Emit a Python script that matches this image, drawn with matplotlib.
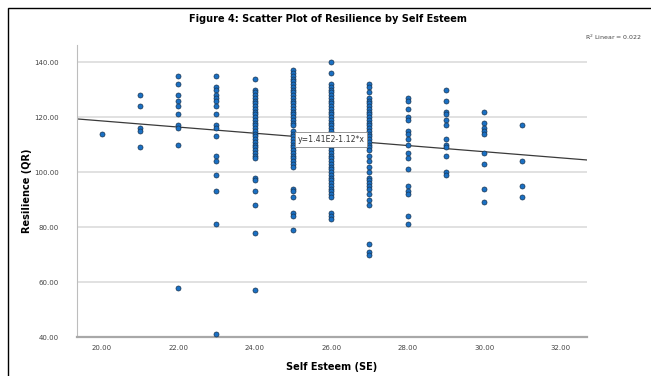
import matplotlib
matplotlib.use('Agg')
import matplotlib.pyplot as plt
import matplotlib.patches as mpatches
import numpy as np

# Resilience (QR) values per Self Esteem (SE) score
se_scores = [20, 21, 22, 23, 24, 25, 26, 27, 28, 29, 30, 31]
qr_by_se = {
    20: [114],
    21: [128, 124, 116, 115, 109],
    22: [135, 132, 128, 126, 124, 121, 117, 116, 110, 58],
    23: [135, 131, 130, 128, 127, 126, 124, 121, 117, 116, 113, 106, 104, 99, 93, 81, 41],
    24: [134, 130, 129, 128, 127, 126, 125, 124, 123, 122, 121, 120, 119, 118, 117,
         116, 115, 114, 113, 112, 111, 110, 109, 108, 107, 106, 105, 98, 97, 93, 88, 78, 57],
    25: [137, 136, 135, 134, 133, 132, 131, 130, 129, 128, 127, 126, 125, 124, 123,
         122, 121, 120, 119, 118, 117, 115, 114, 113, 112, 111, 110, 109, 108, 107,
         106, 105, 104, 103, 102, 94, 93, 91, 85, 84, 79],
    26: [140, 136, 132, 131, 130, 129, 128, 127, 126, 125, 124, 123, 122, 121, 120,
         119, 118, 117, 116, 115, 114, 113, 112, 111, 110, 109, 108, 107, 106, 105,
         104, 103, 102, 101, 100, 99, 98, 97, 96, 95, 94, 93, 92, 91, 85, 84, 83],
    27: [132, 131, 129, 127, 126, 125, 124, 123, 122, 121, 120, 119, 118, 117, 116,
         115, 114, 113, 112, 111, 110, 109, 108, 106, 104, 102, 100, 98, 97, 96, 95,
         94, 92, 90, 88, 74, 71, 70],
    28: [127, 126, 123, 120, 119, 115, 114, 112, 110, 107, 105, 101, 95, 93, 92, 84, 81],
    29: [130, 126, 122, 121, 119, 117, 112, 110, 109, 106, 100, 99],
    30: [122, 118, 116, 115, 114, 107, 103, 94, 89],
    31: [117, 104, 95, 91],
}

# fit line as printed on the chart: y = 1.41E2 - 1.12*x
intercept = 141.0
slope = -1.12
r2_text = 'R$^2$ Linear = 0.022'
fit_label = 'y=1.41E2-1.12*x'

yticks = [40, 60, 80, 100, 120, 140]
xticks = [20, 22, 24, 26, 28, 30, 32]

fig = plt.figure(figsize=(6.51, 3.76), dpi=100)
ax = fig.add_axes([0.1178, 0.1037, 0.7839, 0.7766])

xs = []
ys = []
for se in se_scores:
    for qr in qr_by_se[se]:
        xs.append(se)
        ys.append(qr)

ax.set_xlim(19.35, 32.69)
ax.set_ylim(40, 146.2)

for yt in yticks:
    ax.axhline(yt, color='#dcdcdc', lw=1.2, zorder=0)

xl = np.array(ax.get_xlim())
ax.plot(xl, intercept + slope * xl, color='#3a3a3a', lw=0.9, zorder=2)

ax.scatter(xs, ys, s=13, color='#1a70c4', edgecolors='#1b3550', linewidths=0.5, zorder=3)

ax.text(26.0, intercept + slope * 26.0, fit_label, fontsize=5.6, color='#333333',
        ha='center', va='center', zorder=4,
        bbox=dict(boxstyle='square,pad=0.35', fc='white', ec='#888888', lw=0.6))

ax.set_xticks(xticks)
ax.set_xticklabels([f'{v:.2f}' for v in xticks])
ax.set_yticks(yticks)
ax.set_yticklabels([f'{v:.2f}' for v in yticks])
ax.tick_params(length=0, labelsize=5, colors='#444444')
ax.tick_params(axis='x', pad=6)
ax.tick_params(axis='y', pad=13)

for side in ['top', 'right']:
    ax.spines[side].set_visible(False)
ax.spines['left'].set_color('#bdbdbd')
ax.spines['left'].set_linewidth(0.8)
ax.spines['bottom'].set_color('#a8a8a8')
ax.spines['bottom'].set_linewidth(1.6)

ax.set_xlabel('Self Esteem (SE)', fontsize=7, fontweight='bold', labelpad=8)
ax.set_ylabel('Resilience (QR)', fontsize=7, fontweight='bold')
ax.yaxis.set_label_coords(-0.088, 0.5)

fig.text(0.504, 0.950, 'Figure 4: Scatter Plot of Resilience by Self Esteem',
         fontsize=7, fontweight='bold', ha='center', va='center')
fig.text(0.899, 0.901, r2_text, fontsize=4.5, color='#444444', ha='left', va='center')

# black frame around the chart (only left and top edges show)
fig.patches.append(mpatches.Rectangle((8 / 651, -0.05), 1.2, 1 - 8 / 376 + 0.05,
                                      transform=fig.transFigure, fill=False,
                                      ec='black', lw=1.0))

fig.savefig('out.png', dpi=100)
